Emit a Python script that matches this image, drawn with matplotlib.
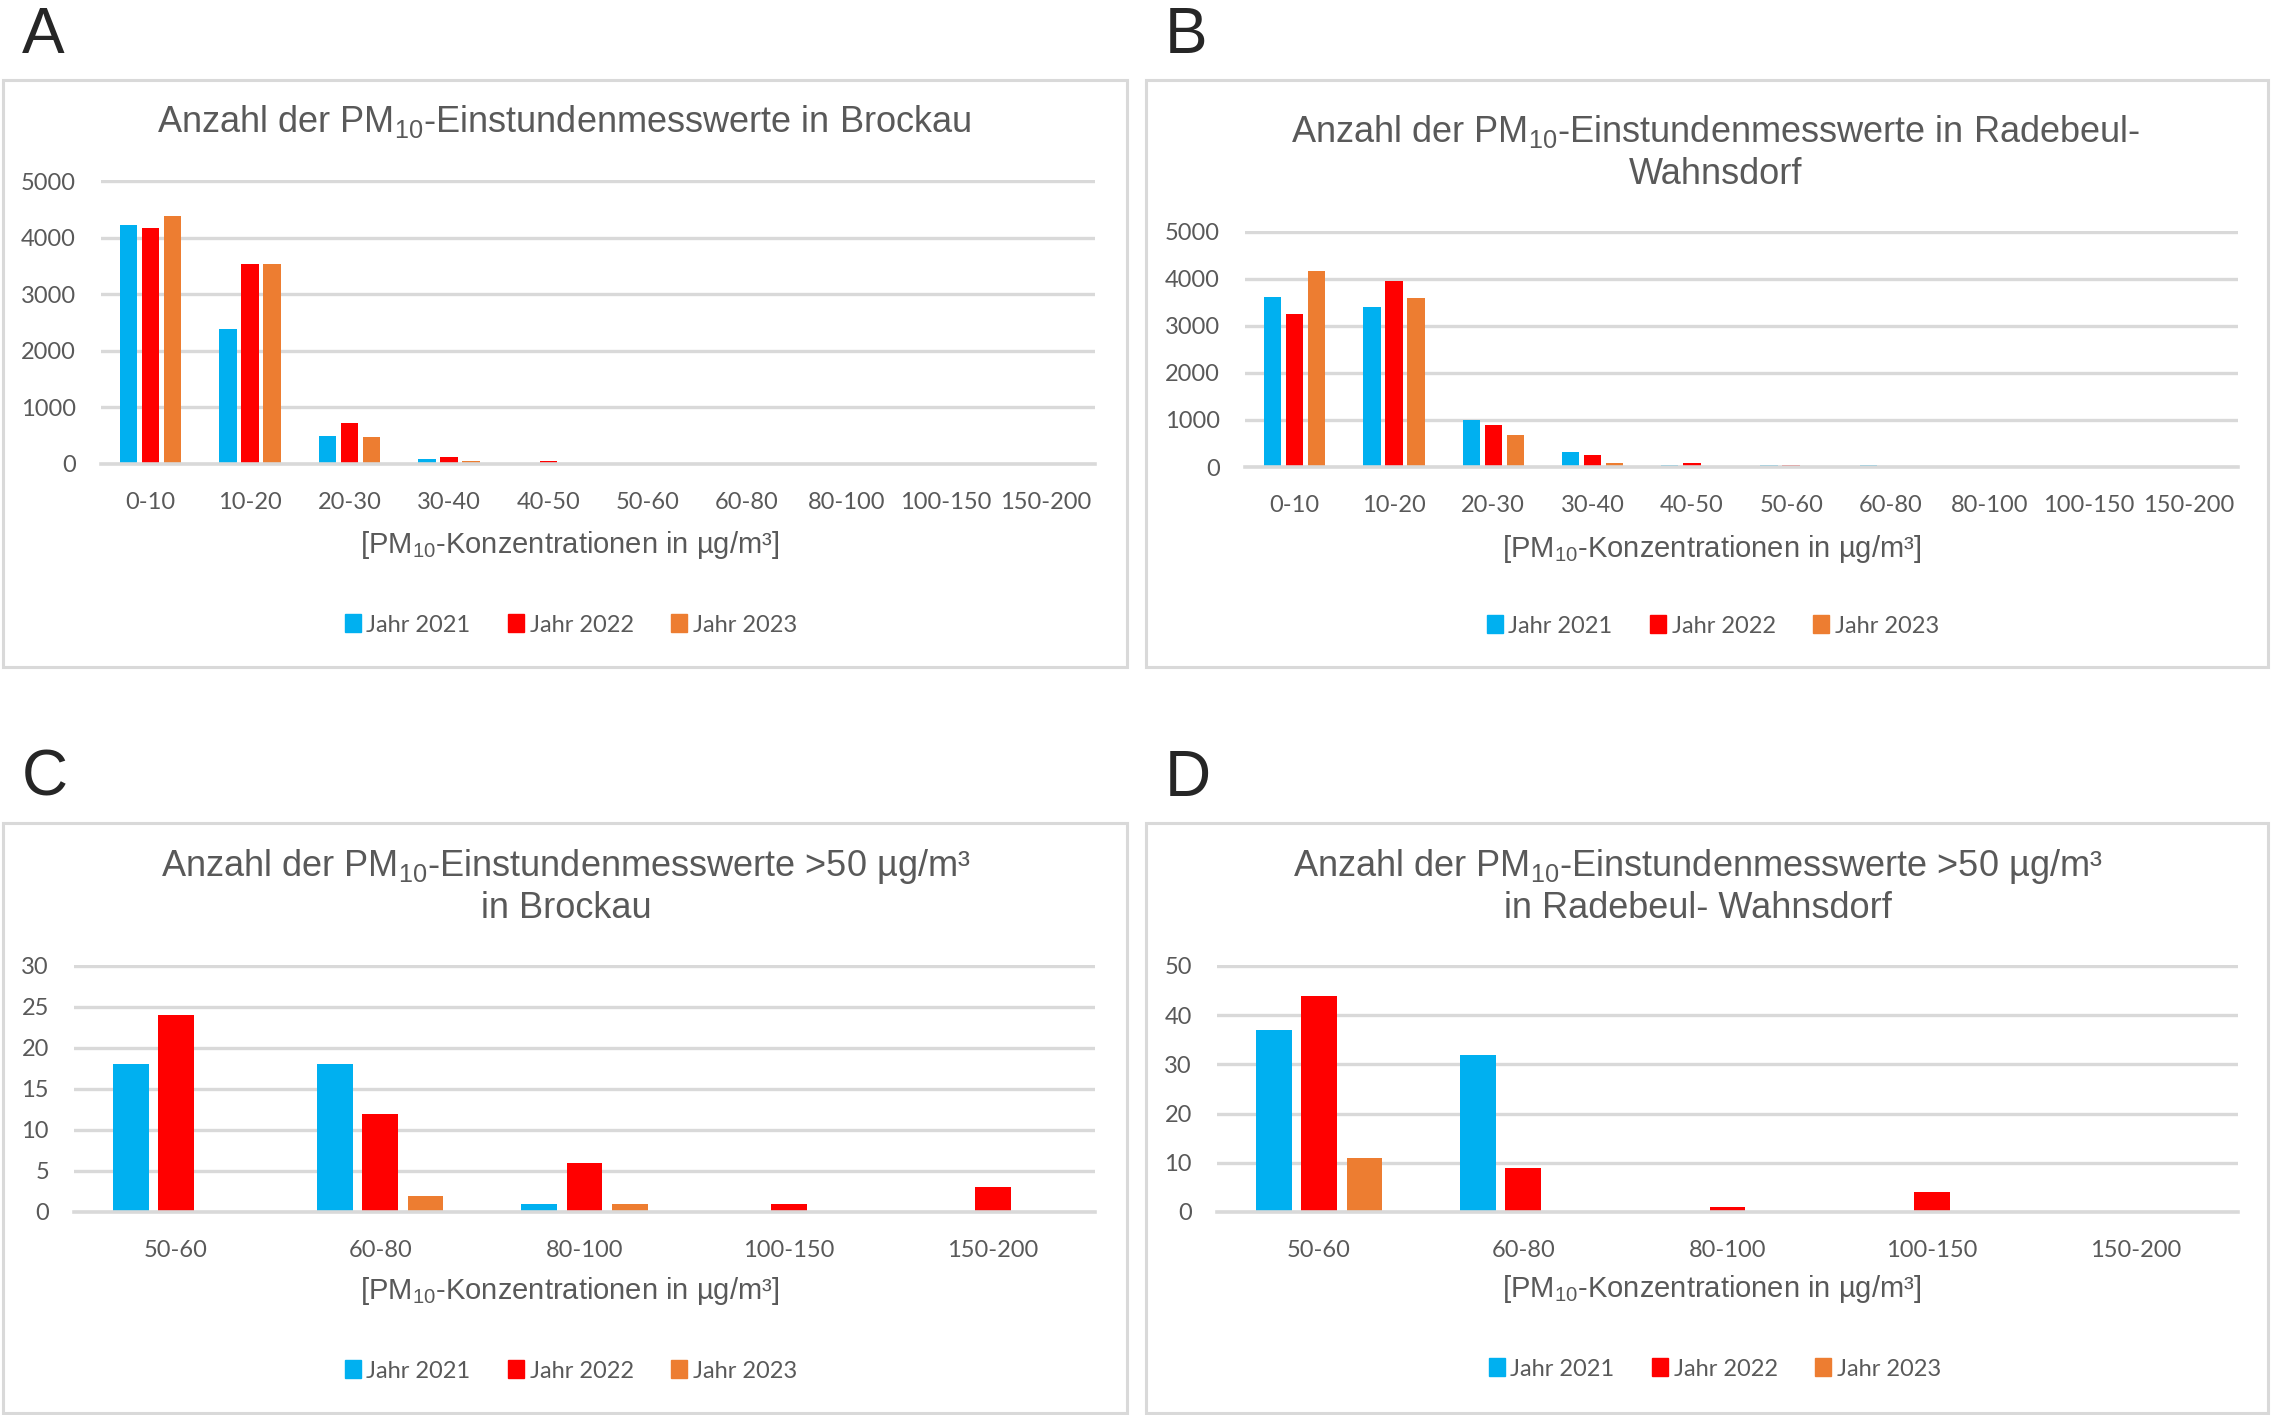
import numpy as np
import matplotlib
matplotlib.use("Agg")
import matplotlib.pyplot as plt
from matplotlib.patches import Rectangle, Patch

plt.rcParams['font.family'] = ['Liberation Sans', 'DejaVu Sans']
plt.rcParams['mathtext.fontset'] = 'custom'
plt.rcParams['mathtext.rm'] = 'Liberation Sans'
plt.rcParams['mathtext.it'] = 'Liberation Sans'

# Klassen der Konzentration
klassen_alle = ['0-10', '10-20', '20-30', '30-40', '40-50',
                '50-60', '60-80', '80-100', '100-150', '150-200']
klassen_hoch = ['50-60', '60-80', '80-100', '100-150', '150-200']

jahre = ['Jahr 2021', 'Jahr 2022', 'Jahr 2023']
farben = ['#00B0F0', '#FF0000', '#ED7D31']

# Brockau, alle Klassen
brockau_2021 = [4230, 2380, 500, 95, 10, 18, 18, 1, 0, 0]
brockau_2022 = [4165, 3530, 730, 120, 46, 24, 12, 6, 1, 3]
brockau_2023 = [4390, 3530, 470, 47, 5, 0, 2, 1, 0, 0]

# Radebeul-Wahnsdorf, alle Klassen
radebeul_2021 = [3620, 3405, 990, 315, 45, 37, 32, 0, 0, 0]
radebeul_2022 = [3260, 3965, 890, 245, 75, 44, 9, 1, 4, 0]
radebeul_2023 = [4175, 3600, 680, 95, 15, 11, 0, 0, 0, 0]

# nur Werte > 50 µg/m³
brockau_hoch_2021 = [18, 18, 1, 0, 0]
brockau_hoch_2022 = [24, 12, 6, 1, 3]
brockau_hoch_2023 = [0, 2, 1, 0, 0]

radebeul_hoch_2021 = [37, 32, 0, 0, 0]
radebeul_hoch_2022 = [44, 9, 1, 4, 0]
radebeul_hoch_2023 = [11, 0, 0, 0, 0]

W, H = 2271, 1415
fig = plt.figure(figsize=(W / 100, H / 100), dpi=100)

TXT = '#595959'
GRID = '#D9D9D9'
PM = 'PM$_{10}$'


def fx(x):
    return x / W


def fy(y):
    return 1 - y / H


def panel(box, plot, letter, titel, titel_y, titel_x, klassen, serien, ymax, ystep,
          xlabel_y, legend_y, legend_x):
    l, t, r, b = box
    fig.add_artist(Rectangle((fx(l), fy(b)), (r - l) / W, (b - t) / H,
                             transform=fig.transFigure, fill=False,
                             ec=GRID, lw=2.2))
    fig.text(fx(l + 19), fy(t - 27), letter, fontsize=46, color='#262626',
             ha='left', va='baseline')

    pl, pt, pr, pb = plot
    ax = fig.add_axes([fx(pl), fy(pb), (pr - pl) / W, (pb - pt) / H])
    x = np.arange(len(klassen))
    breite = 0.175
    schritt = 0.222
    for i, (werte, farbe, name) in enumerate(zip(serien, farben, jahre)):
        ax.bar(x + (i - 1) * schritt, werte, width=breite, color=farbe,
               label=name, zorder=3)
    ax.set_xlim(-0.5, len(klassen) - 0.5)
    ax.set_ylim(0, ymax * 1.004)
    ax.set_yticks(np.arange(0, ymax + 1, ystep))
    ax.set_xticks(x)
    ax.set_xticklabels(klassen)
    ax.grid(axis='y', color=GRID, lw=2.4, zorder=0)
    ax.set_axisbelow(True)
    # Nulllinie liegt über den Balken
    ax.axhline(0, color=GRID, lw=2.6, zorder=4, clip_on=False)
    for s in ax.spines.values():
        s.set_visible(False)
    ax.tick_params(axis='y', length=0, pad=18, labelsize=17, labelcolor=TXT)
    ax.tick_params(axis='x', length=0, pad=20, labelsize=17, labelcolor=TXT)
    for lab in ax.get_xticklabels() + ax.get_yticklabels():
        lab.set_fontfamily(['Lato', 'DejaVu Sans'])

    for zeile, y in zip(titel, titel_y):
        fig.text(fx(titel_x), fy(y), zeile, fontsize=26, color=TXT,
                 ha='center', va='center')
    fig.text(fx((l + r) / 2 + 5), fy(xlabel_y),
             '[' + PM + '-Konzentrationen in µg/m³]', fontsize=21,
             color=TXT, ha='center', va='center')

    griffe = [Patch(color=f) for f in farben]
    fig.legend(griffe, jahre, loc='center',
               bbox_to_anchor=(fx(legend_x), fy(legend_y)),
               ncol=3, frameon=False, handlelength=0.65, handleheight=0.8,
               handletextpad=0.25, columnspacing=1.6,
               prop={'family': ['Lato', 'DejaVu Sans'], 'size': 17},
               labelcolor=TXT)
    return ax


panel((3, 80, 1127, 667), (101, 180, 1095, 464), 'A',
      ['Anzahl der ' + PM + '-Einstundenmesswerte in Brockau'], [121], 564,
      klassen_alle, [brockau_2021, brockau_2022, brockau_2023], 5000, 1000,
      545, 625, 571)

panel((1146, 80, 2268, 667), (1245, 231, 2238, 467), 'B',
      ['Anzahl der ' + PM + '-Einstundenmesswerte in Radebeul-', 'Wahnsdorf'],
      [131, 175], 1716,
      klassen_alle, [radebeul_2021, radebeul_2022, radebeul_2023], 5000, 1000,
      549, 626, 1713)

panel((3, 823, 1127, 1413), (74, 965, 1095, 1212), 'C',
      ['Anzahl der ' + PM + '-Einstundenmesswerte >50 µg/m³', 'in Brockau'],
      [866, 909], 566,
      klassen_hoch, [brockau_hoch_2021, brockau_hoch_2022, brockau_hoch_2023],
      30, 5, 1291, 1371, 571)

panel((1146, 823, 2268, 1413), (1217, 965, 2238, 1212), 'D',
      ['Anzahl der ' + PM + '-Einstundenmesswerte >50 µg/m³',
       'in Radebeul- Wahnsdorf'],
      [866, 909], 1698,
      klassen_hoch, [radebeul_hoch_2021, radebeul_hoch_2022, radebeul_hoch_2023],
      50, 10, 1289, 1369, 1715)

fig.savefig('out.png', dpi=100, facecolor='white')
